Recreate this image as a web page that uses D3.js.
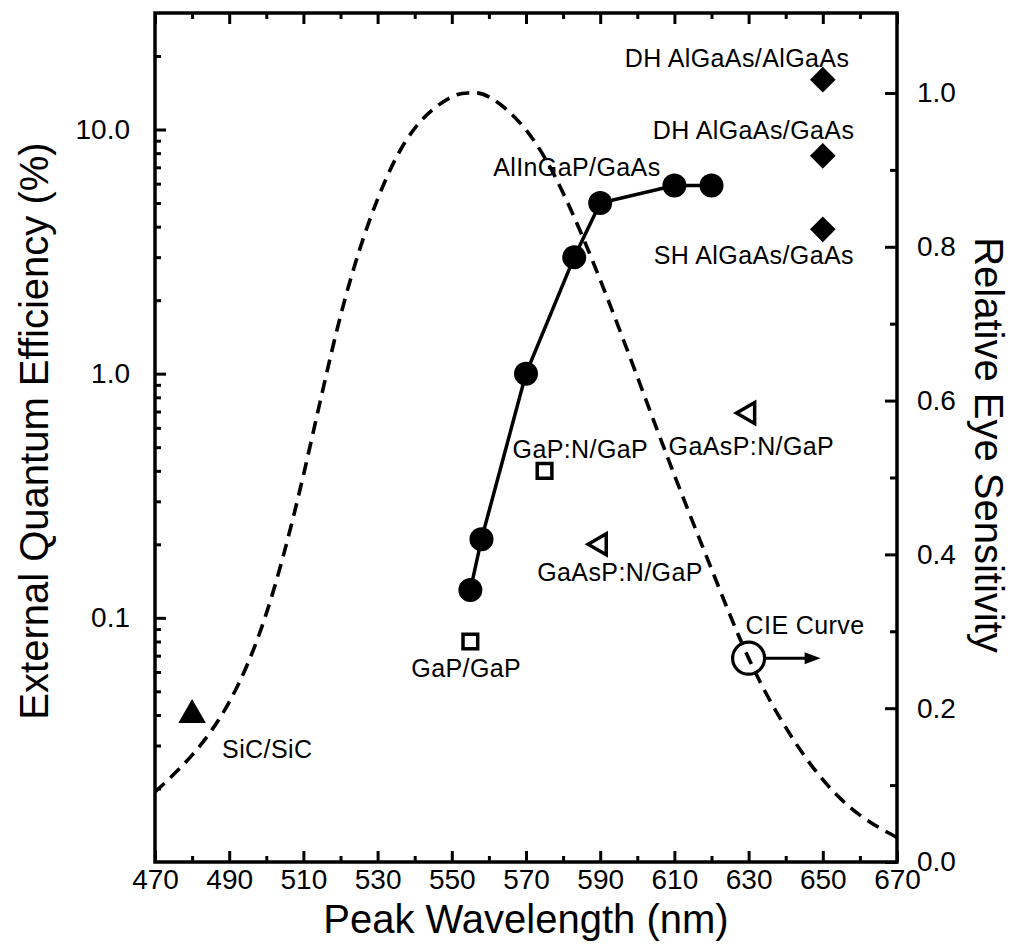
<!DOCTYPE html>
<html>
<head>
<meta charset="utf-8">
<script src="https://cdn.jsdelivr.net/npm/d3@7"></script>
<style>
  body { margin: 0; background: #fff; }
  svg { display: block; }
</style>
</head>
<body>
<div id="chart"></div>
<script>
// CIE photopic eye sensitivity (right axis)
var cieWavelength = [470, 480, 490, 500, 510, 520, 530, 540, 550, 555, 560, 570, 580, 590, 600, 610, 620, 630, 640, 650, 660, 670];
var cieSensitivity = [0.091, 0.139, 0.208, 0.323, 0.503, 0.710, 0.862, 0.954, 0.995, 1.000, 0.995, 0.952, 0.870, 0.757, 0.631, 0.503, 0.381, 0.265, 0.175, 0.107, 0.061, 0.032];

// AlInGaP/GaAs series (left axis, %)
var alingapWavelength = [555, 558, 570, 583, 590, 610, 620];
var alingapEfficiency = [0.13, 0.21, 1.0, 3.0, 5.0, 5.9, 5.9];

// AlGaAs devices at 650 nm
var algaasWavelength = [650, 650, 650];
var algaasEfficiency = [16, 7.8, 3.9];

// GaP based
var gapWavelength = [555, 575];
var gapEfficiency = [0.08, 0.40];

// GaAsP:N/GaP
var gaaspWavelength = [590, 630];
var gaaspEfficiency = [0.20, 0.69];

// SiC/SiC
var sicWavelength = [480];
var sicEfficiency = [0.04];

var xTicks = [470, 490, 510, 530, 550, 570, 590, 610, 630, 650, 670];
var leftTicks = [0.1, 1, 10];
var rightTicks = [0, 0.2, 0.4, 0.6, 0.8, 1.0];

var annotations = [
    { text: 'DH AlGaAs/AlGaAs', wl: 650, eff: 16, dx: -198, dy: -13 },
    { text: 'DH AlGaAs/GaAs', wl: 650, eff: 7.8, dx: -170, dy: -17 },
    { text: 'SH AlGaAs/GaAs', wl: 650, eff: 3.9, dx: -169, dy: 35 },
    { text: 'AlInGaP/GaAs', wl: 590, eff: 5.0, dx: -107, dy: -27 },
    { text: 'GaP:N/GaP', wl: 575, eff: 0.40, dx: -32, dy: -13 },
    { text: 'GaAsP:N/GaP', wl: 630, eff: 0.69, dx: -80, dy: 42 },
    { text: 'GaAsP:N/GaP', wl: 590, eff: 0.20, dx: -63, dy: 37 },
    { text: 'GaP/GaP', wl: 555, eff: 0.08, dx: -59, dy: 36 },
    { text: 'SiC/SiC', wl: 480, eff: 0.04, dx: 30, dy: 43 }
];
var cieMarkerWavelength = 630;

var width = 1017, height = 952;
var frame = { left: 155, right: 897, top: 13, bottom: 862 };
var font = '"Liberation Sans", Arial, Helvetica, sans-serif';

var svg = d3.select('#chart').append('svg')
    .attr('width', width)
    .attr('height', height)
    .style('font-family', font);

var x = d3.scaleLinear().domain([470, 670]).range([frame.left, frame.right]);
var yL = d3.scaleLog().domain([0.01, 30]).range([frame.bottom, frame.top]);
var yR = d3.scaleLinear().domain([0, 1.104]).range([frame.bottom, frame.top]);

// axes
function styleAxis(g, size, sw) {
    g.select('.domain').remove();
    g.selectAll('.tick line').attr('stroke', '#000').attr('stroke-width', sw);
    g.selectAll('.tick text').attr('fill', '#000').style('font-family', font).style('font-size', size + 'px');
}

var minorX = d3.range(480, 670, 20);
svg.append('g').attr('transform', 'translate(0,' + frame.bottom + ')')
    .call(d3.axisBottom(x).tickValues(xTicks).tickSizeInner(-11).tickSizeOuter(0).tickPadding(7).tickFormat(d3.format('d')))
    .call(function(g) { styleAxis(g, 28, 3); });
svg.append('g').attr('transform', 'translate(0,' + frame.bottom + ')')
    .call(d3.axisBottom(x).tickValues(minorX).tickSize(-6).tickFormat(''))
    .call(function(g) { styleAxis(g, 28, 3); });
svg.append('g').attr('transform', 'translate(0,' + frame.top + ')')
    .call(d3.axisTop(x).tickValues(xTicks).tickSize(-11).tickFormat(''))
    .call(function(g) { styleAxis(g, 28, 3); });
svg.append('g').attr('transform', 'translate(0,' + frame.top + ')')
    .call(d3.axisTop(x).tickValues(minorX).tickSize(-6).tickFormat(''))
    .call(function(g) { styleAxis(g, 28, 3); });

var minorLog = [];
[0.01, 0.1, 1, 10].forEach(function(dec) {
    for (var k = 2; k <= 9; k++) { if (k * dec < 30) minorLog.push(k * dec); }
});
svg.append('g').attr('transform', 'translate(' + frame.left + ',0)')
    .call(d3.axisLeft(yL).tickValues(leftTicks).tickSize(-11).tickPadding(25).tickFormat(d3.format('.1f')))
    .call(function(g) { styleAxis(g, 28, 3); });
svg.append('g').attr('transform', 'translate(' + frame.left + ',0)')
    .call(d3.axisLeft(yL).tickValues(minorLog).tickSize(-6).tickFormat(''))
    .call(function(g) { styleAxis(g, 28, 3); });

svg.append('g').attr('transform', 'translate(' + frame.right + ',0)')
    .call(d3.axisRight(yR).tickValues(rightTicks).tickSize(-12).tickPadding(20).tickFormat(d3.format('.1f')))
    .call(function(g) { styleAxis(g, 28, 3); });
svg.append('g').attr('transform', 'translate(' + frame.right + ',0)')
    .call(d3.axisRight(yR).tickValues([0.1, 0.3, 0.5, 0.7, 0.9]).tickSize(-7).tickFormat(''))
    .call(function(g) { styleAxis(g, 28, 3); });

// frame
svg.append('rect')
    .attr('x', frame.left).attr('y', frame.top)
    .attr('width', frame.right - frame.left).attr('height', frame.bottom - frame.top)
    .attr('fill', 'none').attr('stroke', '#000').attr('stroke-width', 3.5);

// axis titles
svg.append('text')
    .attr('x', (frame.left + frame.right) / 2)
    .attr('y', 933)
    .attr('text-anchor', 'middle')
    .style('font-size', '40px')
    .text('Peak Wavelength (nm)');

svg.append('text')
    .attr('transform', 'translate(48,431) rotate(-90)')
    .attr('text-anchor', 'middle')
    .style('font-size', '40px')
    .text('External Quantum Efficiency (%)');

svg.append('text')
    .attr('transform', 'translate(975,445) rotate(90)')
    .attr('text-anchor', 'middle')
    .style('font-size', '40px')
    .text('Relative Eye Sensitivity');

// CIE curve
var cieData = cieWavelength.map(function(w, i) { return [w, cieSensitivity[i]]; });
svg.append('path')
    .datum(cieData)
    .attr('fill', 'none')
    .attr('stroke', '#000')
    .attr('stroke-width', 3.6)
    .attr('stroke-dasharray', '13,8')
    .attr('d', d3.line()
        .x(function(d) { return x(d[0]); })
        .y(function(d) { return yR(d[1]); })
        .curve(d3.curveNatural));

// AlInGaP line + points
var alData = alingapWavelength.map(function(w, i) { return [w, alingapEfficiency[i]]; });
svg.append('path')
    .datum(alData)
    .attr('fill', 'none')
    .attr('stroke', '#000')
    .attr('stroke-width', 3.5)
    .attr('d', d3.line()
        .x(function(d) { return x(d[0]); })
        .y(function(d) { return yL(d[1]); }));
svg.selectAll('.al').data(alData).enter().append('circle')
    .attr('cx', function(d) { return x(d[0]); })
    .attr('cy', function(d) { return yL(d[1]); })
    .attr('r', 12)
    .attr('fill', '#000');

// AlGaAs diamonds
svg.selectAll('.dia').data(algaasWavelength.map(function(w, i) { return [w, algaasEfficiency[i]]; }))
    .enter().append('path')
    .attr('transform', function(d) { return 'translate(' + x(d[0]) + ',' + yL(d[1]) + ') rotate(45)'; })
    .attr('d', d3.symbol().type(d3.symbolSquare).size(330))
    .attr('fill', '#000');

// GaP open squares
svg.selectAll('.sq').data(gapWavelength.map(function(w, i) { return [w, gapEfficiency[i]]; }))
    .enter().append('path')
    .attr('transform', function(d) { return 'translate(' + x(d[0]) + ',' + yL(d[1]) + ')'; })
    .attr('d', d3.symbol().type(d3.symbolSquare).size(215))
    .attr('fill', 'none')
    .attr('stroke', '#000')
    .attr('stroke-width', 3.5);

// GaAsP open triangles, pointing left
svg.selectAll('.tri').data(gaaspWavelength.map(function(w, i) { return [w, gaaspEfficiency[i]]; }))
    .enter().append('path')
    .attr('transform', function(d) { return 'translate(' + x(d[0]) + ',' + yL(d[1]) + ') rotate(-90)'; })
    .attr('d', d3.symbol().type(d3.symbolTriangle).size(190))
    .attr('fill', 'none')
    .attr('stroke', '#000')
    .attr('stroke-width', 3.5);

// SiC filled triangle
svg.selectAll('.sic').data(sicWavelength.map(function(w, i) { return [w, sicEfficiency[i]]; }))
    .enter().append('path')
    .attr('transform', function(d) { return 'translate(' + x(d[0]) + ',' + yL(d[1]) + ')'; })
    .attr('d', d3.symbol().type(d3.symbolTriangle).size(330))
    .attr('fill', '#000');

// labels
svg.selectAll('.lbl').data(annotations).enter().append('text')
    .attr('x', function(d) { return x(d.wl) + d.dx; })
    .attr('y', function(d) { return yL(d.eff) + d.dy; })
    .style('font-size', '25px')
    .style('letter-spacing', '0.4px')
    .text(function(d) { return d.text; });

// CIE curve marker and arrow
var cieIdx = cieWavelength.indexOf(cieMarkerWavelength);
var cx = x(cieMarkerWavelength), cy = yR(cieSensitivity[cieIdx]);
svg.append('circle')
    .attr('cx', cx).attr('cy', cy).attr('r', 16)
    .attr('fill', 'none').attr('stroke', '#000').attr('stroke-width', 3.2);
svg.append('line')
    .attr('x1', cx + 16).attr('y1', cy)
    .attr('x2', cx + 60).attr('y2', cy)
    .attr('stroke', '#000').attr('stroke-width', 3);
svg.append('path')
    .attr('d', 'M' + (cx + 72) + ',' + cy + 'L' + (cx + 56) + ',' + (cy - 6) + 'L' + (cx + 56) + ',' + (cy + 6) + 'Z')
    .attr('fill', '#000');
svg.append('text')
    .attr('x', cx - 3)
    .attr('y', cy - 24)
    .style('font-size', '25px')
    .style('letter-spacing', '0.4px')
    .text('CIE Curve');
</script>
</body>
</html>
